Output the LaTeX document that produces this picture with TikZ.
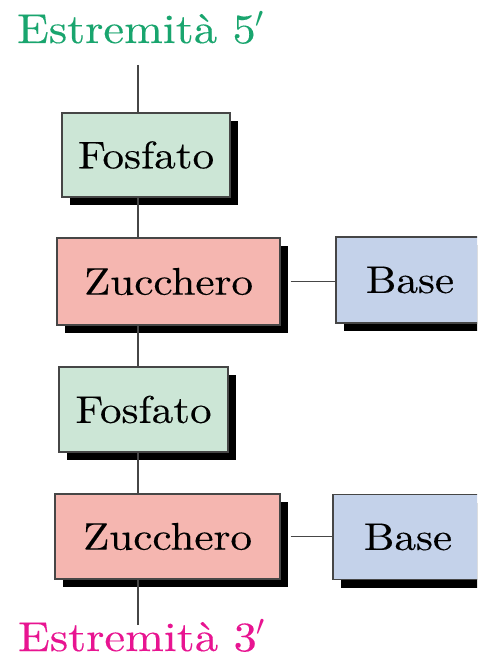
\documentclass[tikz,border=0pt]{standalone}
\usepackage{fix-cm}
\usepackage{fontspec}
\setmainfont{lmroman10-regular.otf}[FakeStretch=1.12, FakeBold=0.25]
\usetikzlibrary{shadows}
\definecolor{endgreen}{RGB}{25,165,110}
\definecolor{endpink}{RGB}{232,20,145}
\definecolor{fosfill}{RGB}{204,230,214}
\definecolor{zucfill}{RGB}{245,182,176}
\definecolor{basfill}{RGB}{196,210,234}
\definecolor{edgegray}{RGB}{70,70,70}
\tikzset{
  big/.style={font=\fontsize{38.5}{46}\selectfont},
  endlabel/.style={font=\fontsize{41.5}{50}\selectfont, anchor=base west, inner sep=0pt},
  unit/.style={big, draw=edgegray, line width=1.3pt, inner sep=0pt,
    drop shadow={shadow xshift=8pt, shadow yshift=-8pt, fill=black, opacity=1}},
  fosbox/.style={unit, fill=fosfill},
  zucbox/.style={unit, fill=zucfill},
  basbox/.style={unit, fill=basfill},
  link/.style={draw=edgegray, line width=1.4pt},
}
\begin{document}
\begin{tikzpicture}[x=1pt,y=-1pt]
\useasboundingbox (0,0) rectangle (477,658);
\clip (0,0) rectangle (477,658);
\fill[white] (0,0) rectangle (477,658);
% end labels
\node[endlabel, text=endgreen] (e5) at (17,43) {Estremit\`a 5$'$};
\node[endlabel, text=endpink] (e3) at (18,651) {Estremit\`a 3$'$};
% units
\node[fosbox, minimum width=168pt, minimum height=84pt] (f1) at (146,155) {Fosfato};
\node[zucbox, minimum width=223pt, minimum height=87pt] (z1) at (168.5,281.5) {Zucchero};
\node[basbox, minimum width=148pt, minimum height=86pt] (b1) at (410,280) {Base};
\node[fosbox, minimum width=169pt, minimum height=85pt] (f2) at (143.5,409.5) {Fosfato};
\node[zucbox, minimum width=225pt, minimum height=85pt] (z2) at (167.5,536.5) {Zucchero};
\node[basbox, minimum width=150pt, minimum height=85pt] (b2) at (408,537) {Base};
% spine
\coordinate (top) at (138,65);
\coordinate (bot) at (138,625);
\draw[link] (top) -- (top |- f1.north);
\draw[link] (top |- f1.south) -- (top |- z1.north);
\draw[link] (top |- z1.south) -- (top |- f2.north);
\draw[link] (top |- f2.south) -- (top |- z2.north);
\draw[link] (top |- z2.south) -- (bot);
\draw[link] ([xshift=10pt]z1.east) -- (b1.west |- z1.east);
\draw[link] ([xshift=10pt]z2.east) -- (b2.west |- z2.east);
\end{tikzpicture}
\end{document}
